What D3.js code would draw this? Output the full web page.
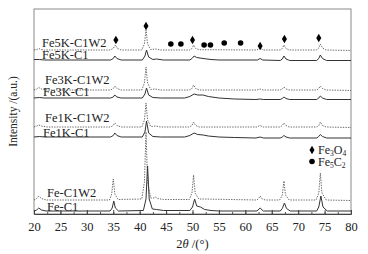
<!DOCTYPE html>
<html>
<head>
<meta charset="utf-8">
<script src="https://cdn.jsdelivr.net/npm/d3@7"></script>
<style>
  body { margin: 0; background: #fff; }
  text { font-family: "Liberation Serif", "DejaVu Serif", serif; }
</style>
</head>
<body>
<svg width="368" height="254"></svg>
<script>
//chart size
const width = 368;
const height = 254;
const margin = { top: 9, right: 17, bottom: 40, left: 34 };
const w = width - margin.left - margin.right;
const h = height - margin.top - margin.bottom;

//series names, bottom to top
const names = ["Fe-C1", "Fe-C1W2", "Fe1K-C1", "Fe1K-C1W2", "Fe3K-C1", "Fe3K-C1W2", "Fe5K-C1", "Fe5K-C1W2"];
//stack offsets (a.u.)
const offsets = [3, 14, 77, 87, 116, 124, 154, 164];

//patterns [2theta, intensity above own baseline]
const feC1 = [[20,0],[20.5,1],[20.9,3],[21.4,1],[22.3,0],[34.4,0],[34.8,3],[35.1,10],[35.4,3],[36,0],[40.7,0.5],[41.2,12],[41.5,45],[41.8,12],[42.4,2],[43.2,1.5],[44.5,0.5],[49.5,0.5],[50.0,4],[50.4,12],[50.8,5],[51.5,4],[52.3,1.5],[53.5,0.5],[55,0],[62.2,0],[62.8,3],[63.4,0],[66.6,0],[67.0,2.5],[67.4,8],[67.8,2.5],[68.5,0],[73.5,0],[73.9,4],[74.3,15],[74.7,4],[75.5,0],[80,0]];
const feC1W2 = [[20,0],[20.5,1.5],[20.9,4],[21.4,1.5],[22.3,0],[34.3,0],[34.7,6],[35.0,21],[35.3,6],[35.9,0.5],[40.4,1],[40.9,18],[41.2,68],[41.5,18],[42.1,2],[42.7,2],[43.0,3],[43.4,1.5],[44.5,0.5],[49.4,0.5],[49.9,7],[50.2,25],[50.5,7],[51.2,1],[52,1],[62.2,0],[62.5,1.5],[62.8,4],[63.2,1],[63.8,0],[66.5,0],[67.0,5],[67.3,19],[67.6,5],[68.3,0],[73.4,0],[73.9,7],[74.2,27],[74.5,7],[75.3,0],[80,-0.5]];
const fe1kC1 = [[20,0],[21,0.5],[22,0],[34.5,0],[35.0,1.5],[35.3,4],[35.7,1.5],[36.5,0],[40.5,0],[41.0,5],[41.3,16],[41.7,4],[42.5,0.5],[44,0],[48.5,0],[49.5,1.5],[50.3,4],[51.0,2.5],[52,2],[53,1],[55,0],[58,-0.5],[62,-1],[62.8,0],[63.4,-1],[66.6,-1],[67.0,0],[67.3,1.5],[67.7,0],[68.4,-1],[73.5,-1],[73.9,0.5],[74.2,2.5],[74.6,0.5],[75.4,-1],[80,-1]];
const fe1kC1W2 = [[20,0],[20.5,1],[20.9,2],[21.4,1],[22.5,0],[34.5,0],[35.0,1.5],[35.3,4],[35.7,1.5],[36.5,0],[40.4,0],[40.9,7],[41.2,24],[41.5,7],[42.1,0.5],[43,1],[44,0],[49.4,0],[49.9,1.5],[50.2,5],[50.6,1.5],[51.3,0],[62.2,0],[62.8,1.5],[63.4,0],[66.6,0],[67.0,1.5],[67.3,4],[67.7,1.5],[68.3,0],[73.5,0],[73.9,1.5],[74.2,5],[74.6,1.5],[75.3,0],[80,-0.5]];
const fe3kC1 = [[20,0],[21,0.5],[22,0],[34.5,0],[35.0,1],[35.3,3],[35.7,1],[36.5,0],[40.5,0],[41.0,4],[41.3,10],[41.7,3],[42.5,0.5],[44,0],[48.5,0],[49.5,1.5],[50.3,4],[51.0,3],[52,3],[53,1.5],[55,0],[58,-1],[62,-1.5],[62.8,-1],[63.4,-1.5],[66.6,-1.5],[67.0,-0.5],[67.3,1],[67.7,-0.5],[68.4,-1.5],[73.5,-1.5],[73.9,0],[74.2,2],[74.6,0],[75.4,-1.5],[80,-1.5]];
const fe3kC1W2 = [[20,0],[20.5,1],[20.9,2.5],[21.4,1],[22.5,0],[34.5,0],[35.0,1.5],[35.3,4],[35.7,1.5],[36.5,0],[40.4,0],[40.9,7],[41.2,23],[41.5,7],[42.1,0.5],[43,1],[44,0],[49.4,0],[49.9,1.5],[50.2,5],[50.6,1.5],[51.3,0],[62.2,0],[62.8,1],[63.4,0],[66.6,0],[67.0,1],[67.3,3],[67.7,1],[68.3,0],[73.5,0],[73.9,1.5],[74.2,4],[74.6,1.5],[75.3,0],[80,-0.5]];
const fe5kC1 = [[20,0.5],[21,0.5],[22,0],[34.5,0],[35.0,1.5],[35.3,4],[35.7,1.5],[36.5,0],[40.5,0],[41.0,4],[41.3,10],[41.7,3],[42.5,0.5],[43.2,1],[44.5,0],[49.5,0],[50.0,2],[50.3,4],[50.8,2.5],[52,1.5],[53.5,0.5],[55,0],[62.3,0],[62.8,1.5],[63.3,0],[66.6,-0.5],[67.0,1],[67.3,4],[67.7,1],[68.4,-0.5],[73.5,-0.5],[73.9,1.5],[74.2,5],[74.6,1.5],[75.4,-0.5],[80,-0.5]];
const fe5kC1W2 = [[20,0],[20.6,0.5],[20.9,1.5],[21.3,0.5],[22,0],[34.4,0],[35.0,1.5],[35.4,5],[35.8,1.5],[36.5,0],[40.4,0],[40.9,6],[41.2,20],[41.5,6],[42.1,0.5],[43.0,1],[44,0],[49.4,0],[49.9,1.5],[50.2,5],[50.6,1.5],[51.3,0.3],[62.2,0],[62.8,2],[63.4,0],[66.6,0],[67.0,1.5],[67.3,5],[67.7,1.5],[68.3,0],[73.5,0],[73.9,2],[74.2,6],[74.6,2],[75.3,0],[80,-0.5]];
const patterns = [feC1, feC1W2, fe1kC1, fe1kC1W2, fe3kC1, fe3kC1W2, fe5kC1, fe5kC1W2];

//phase markers [2theta, a.u.]
const fe3o4Marks = [[35.5,174],[41.2,188],[50.0,174],[62.8,168],[67.4,175],[73.9,176]];
const fe5c2Marks = [[45.9,170],[47.8,170],[52.2,169],[53.4,169],[56.0,171],[59.1,171]];

//x tick labels
const xTicks = [20, 25, 30, 35, 40, 45, 50, 55, 60, 65, 70, 75, 80];

//label placement: left inset and baseline lift above own trace
const labelX  = [13, 13, 9, 11, 9, 11, 8, 8];
const labelDy = [0.5, 3, 0, 5, 2.5, 6, 1, 3];

const svg = d3.select("svg");
const g = svg.append("g")
    .attr("transform", `translate(${margin.left}, ${margin.top})`);

const x = d3.scaleLinear().domain([20, 80]).range([0, w]);
const y = d3.scaleLinear().domain([0, h]).range([h, 0]);

//frame
g.append("rect")
    .attr("width", w).attr("height", h)
    .attr("fill", "none").attr("stroke", "#8a8a8a").attr("stroke-width", 1);

//bottom axis, ticks inside
const minor = d3.range(20, 80.01, 2.5);
g.append("g")
    .attr("transform", `translate(0, ${h})`)
    .call(d3.axisBottom(x).tickValues(minor).tickSize(-2).tickFormat(""))
    .call(a => a.select(".domain").remove())
    .selectAll("line").attr("stroke", "#555");
const xa = g.append("g")
    .attr("transform", `translate(0, ${h})`)
    .call(d3.axisBottom(x).tickValues(xTicks).tickSize(-4).tickPadding(8))
    .call(a => a.select(".domain").attr("stroke", "#444"));
xa.selectAll("line").attr("stroke", "#444");
xa.selectAll("text")
    .style("font-family", "Liberation Serif")
    .style("font-size", "12.5px")
    .attr("fill", "#222");

//traces
const line = d3.line()
    .x(d => x(d[0]))
    .y(d => y(d[1]));

patterns.forEach((p, i) => {
    const dotted = names[i].endsWith("W2");
    g.append("path")
        .datum(p.map(d => [d[0], d[1] + offsets[i]]))
        .attr("fill", "none")
        .attr("stroke", dotted ? "#444" : "#333")
        .attr("stroke-width", dotted ? 0.8 : 1)
        .attr("stroke-dasharray", dotted ? "1.4,1.2" : null)
        .attr("d", line);
});

//series labels
names.forEach((n, i) => {
    g.append("text")
        .attr("x", labelX[i])
        .attr("y", y(offsets[i]) - labelDy[i])
        .attr("font-size", "12.5px")
        .attr("fill", "#222")
        .text(n);
});

//markers
const diamond = d3.symbol().type(d3.symbolDiamond).size(22);
g.selectAll(".dia")
    .data(fe3o4Marks)
    .enter()
    .append("path")
    .attr("transform", d => `translate(${x(d[0])}, ${y(d[1])})`)
    .attr("d", diamond)
    .attr("fill", "#000");
g.selectAll(".dot")
    .data(fe5c2Marks)
    .enter()
    .append("circle")
    .attr("cx", d => x(d[0]))
    .attr("cy", d => y(d[1]))
    .attr("r", 2.8)
    .attr("fill", "#000");

//legend
const lg = g.append("g").attr("transform", `translate(${w - 39}, ${141})`);
lg.append("path").attr("d", diamond).attr("fill", "#000");
lg.append("circle").attr("cy", 11.5).attr("r", 2.8).attr("fill", "#000");
const t1 = lg.append("text").attr("x", 6).attr("y", 3.5).attr("font-size", "12px").attr("fill", "#222");
t1.append("tspan").text("Fe");
t1.append("tspan").attr("font-size", "7.5px").attr("dy", 2.5).text("3");
t1.append("tspan").attr("dy", -2.5).text("O");
t1.append("tspan").attr("font-size", "7.5px").attr("dy", 2.5).text("4");
const t2 = lg.append("text").attr("x", 6).attr("y", 15.5).attr("font-size", "12px").attr("fill", "#222");
t2.append("tspan").text("Fe");
t2.append("tspan").attr("font-size", "7.5px").attr("dy", 2.5).text("5");
t2.append("tspan").attr("dy", -2.5).text("C");
t2.append("tspan").attr("font-size", "7.5px").attr("dy", 2.5).text("2");

//axis titles
const xt = svg.append("text")
    .attr("x", margin.left + w / 2)
    .attr("y", 248)
    .attr("text-anchor", "middle")
    .attr("font-size", "12.5px")
    .attr("fill", "#222");
xt.append("tspan").text("2");
xt.append("tspan").attr("font-style", "italic").text("θ");
xt.append("tspan").text(" /(°)");

svg.append("text")
    .attr("transform", "rotate(-90)")
    .attr("x", -(margin.top + h / 2))
    .attr("y", 17)
    .attr("text-anchor", "middle")
    .attr("font-size", "11.5px")
    .attr("fill", "#222")
    .text("Intensity /(a.u.)");
</script>
</body>
</html>
